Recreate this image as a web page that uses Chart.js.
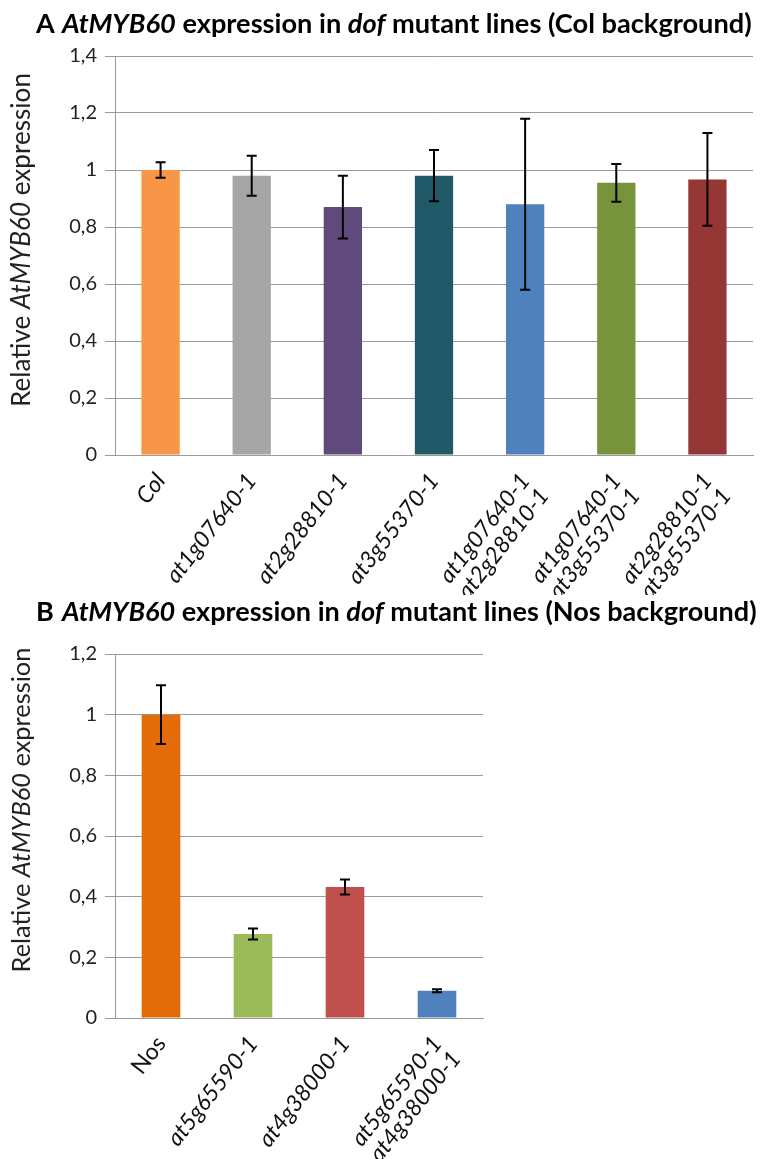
<!DOCTYPE html>
<html>
<head>
<meta charset="utf-8">
<script src="https://cdn.jsdelivr.net/npm/chart.js@4.4.1/dist/chart.umd.min.js"></script>
<style>
  body { margin: 0; background: #fff; }
  canvas { display: block; }
</style>
</head>
<body>
<canvas id="chartA" width="762" height="595"></canvas>
<canvas id="chartB" width="762" height="564"></canvas>
<script>
// panel A data
const labelsA = ['Col', 'at1g07640-1', 'at2g28810-1', 'at3g55370-1',
    ['at1g07640-1', 'at2g28810-1'], ['at1g07640-1', 'at3g55370-1'], ['at2g28810-1', 'at3g55370-1']];
const valuesA = [1.0, 0.98, 0.87, 0.98, 0.88, 0.955, 0.967];
const errorsA = [0.027, 0.07, 0.11, 0.09, 0.30, 0.066, 0.163];
const colorsA = ['#F79646', '#A5A5A5', '#604A7B', '#215968', '#4F81BD', '#77933C', '#953735'];
const ticksA = ['0', '0,2', '0,4', '0,6', '0,8', '1', '1,2', '1,4'];

// panel B data
const labelsB = ['Nos', 'at5g65590-1', 'at4g38000-1', ['at5g65590-1', 'at4g38000-1']];
const valuesB = [1.0, 0.277, 0.432, 0.09];
const errorsB = [0.097, 0.018, 0.025, 0.005];
const colorsB = ['#E36C09', '#9BBB59', '#C0504D', '#4F81BD'];
const ticksB = ['0', '0,2', '0,4', '0,6', '0,8', '1', '1,2'];

const FONT = 'Lato, "Open Sans", sans-serif';
const gridColor = '#9a9a9a';

// error bars drawn from the error arrays
const errorBars = {
    id: 'errorBars',
    afterDatasetsDraw(chart, args, opts) {
        const ctx = chart.ctx;
        const x = chart.scales.x, y = chart.scales.y;
        const vals = chart.data.datasets[0].data;
        ctx.save();
        ctx.strokeStyle = '#000';
        ctx.lineWidth = 2;
        vals.forEach((v, i) => {
            const e = opts.errors[i];
            const px = x.getPixelForValue(i);
            const top = y.getPixelForValue(v + e);
            const bot = y.getPixelForValue(v - e);
            ctx.beginPath();
            ctx.moveTo(px, top); ctx.lineTo(px, bot);
            ctx.moveTo(px - 5, top); ctx.lineTo(px + 5, top);
            ctx.moveTo(px - 5, bot); ctx.lineTo(px + 5, bot);
            ctx.stroke();
        });
        ctx.restore();
    }
};

function runsWidth(ctx, runs, size, weight) {
    let w = 0;
    runs.forEach(r => {
        ctx.font = (r[1] ? 'italic ' : '') + weight + ' ' + size + 'px ' + FONT;
        w += ctx.measureText(r[0]).width;
    });
    return w;
}
function drawRuns(ctx, runs, x, y, size, weight) {
    runs.forEach(r => {
        ctx.font = (r[1] ? 'italic ' : '') + weight + ' ' + size + 'px ' + FONT;
        ctx.fillText(r[0], x, y);
        x += ctx.measureText(r[0]).width;
    });
}

// panel letter, title and y-axis title with mixed italic text
const headings = {
    id: 'headings',
    afterDraw(chart, args, o) {
        const ctx = chart.ctx;
        ctx.save();
        ctx.fillStyle = '#000';
        ctx.textBaseline = 'middle';
        ctx.textAlign = 'left';
        ctx.font = 'bold 27px ' + FONT;
        ctx.fillText(o.letter, 36, o.titleY);
        const tRuns = [['AtMYB60', true], [' expression in ', false], ['dof', true], [' mutant lines (' + o.bg + ' background)', false]];
        let s = 22 * o.titleW / runsWidth(ctx, tRuns, 22, 'bold');
        drawRuns(ctx, tRuns, 62, o.titleY, s, 'bold');

        const yRuns = [['Relative ', false], ['AtMYB60', true], [' expression', false]];
        ctx.fillStyle = '#222';
        s = 20 * o.yTitleLen / runsWidth(ctx, yRuns, 20, 'normal');
        const w = runsWidth(ctx, yRuns, s, 'normal');
        ctx.translate(22, o.yTitleC);
        ctx.rotate(-Math.PI / 2);
        drawRuns(ctx, yRuns, -w / 2, 0, s, 'normal');
        ctx.restore();
    }
};

function makeChart(id, labels, values, errors, colors, tickLabels, max, cfg) {
    return new Chart(document.getElementById(id), {
        type: 'bar',
        data: {
            labels: labels,
            datasets: [{
                data: values,
                backgroundColor: colors,
                barPercentage: 0.42,
                categoryPercentage: 1
            }]
        },
        options: {
            responsive: false,
            animation: false,
            layout: { padding: { top: cfg.top, right: cfg.right, left: 0, bottom: 0 } },
            scales: {
                x: {
                    grid: { display: false },
                    border: { color: gridColor, width: 1 },
                    afterFit: s => { s.height = cfg.xh; },
                    ticks: {
                        minRotation: 52,
                        maxRotation: 52,
                        padding: 6,
                        color: '#111',
                        font: c => ({ family: FONT, size: 23, lineHeight: 1.05, style: c.index === 0 && id === 'chartB' ? 'normal' : 'italic' })
                    }
                },
                y: {
                    min: 0,
                    max: max,
                    afterFit: s => { s.width = 115; },
                    grid: { color: gridColor, tickLength: 10 },
                    border: { color: gridColor },
                    ticks: {
                        stepSize: 0.2,
                        padding: 8,
                        color: '#222',
                        font: { family: FONT, size: 20 },
                        callback: (v, i) => tickLabels[i]
                    }
                }
            },
            plugins: {
                legend: { display: false },
                tooltip: { enabled: false },
                errorBars: { errors: errors },
                headings: cfg.head
            }
        },
        plugins: [errorBars, headings]
    });
}

makeChart('chartA', labelsA, valuesA, errorsA, colorsA, ticksA, 1.4, {
    top: 56, right: 9, xh: 140,
    head: { letter: 'A', bg: 'Col', titleY: 24, titleW: 690, yTitleLen: 334, yTitleC: 240 }
});
makeChart('chartB', labelsB, valuesB, errorsB, colorsB, ticksB, 1.2, {
    top: 59, right: 279, xh: 141,
    head: { letter: 'B', bg: 'Nos', titleY: 17, titleW: 695, yTitleLen: 325, yTitleC: 215 }
});
</script>
</body>
</html>
